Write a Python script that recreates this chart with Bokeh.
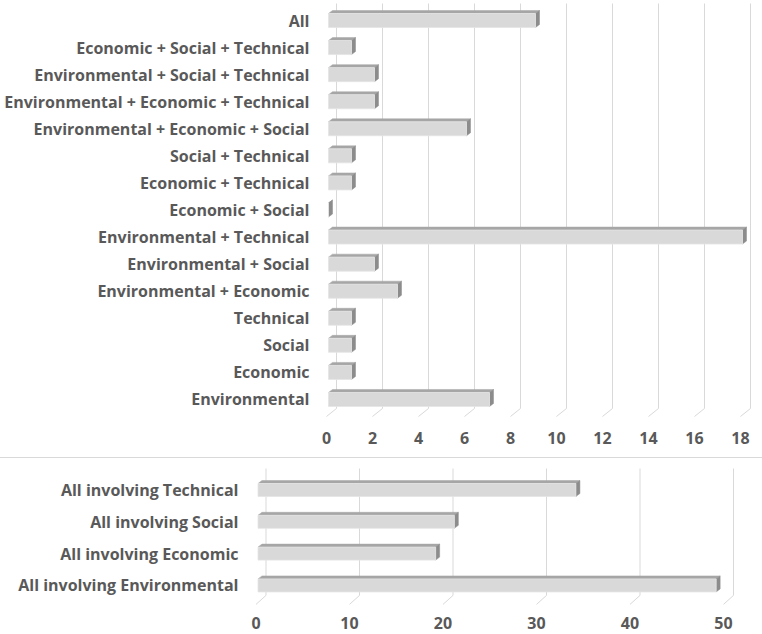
from bokeh.plotting import figure
from bokeh.models import FixedTicker, Div
from bokeh.core.properties import value
from bokeh.embed import file_html
from bokeh.resources import INLINE

# ---------------- data ----------------
top_categories = [
    "Environmental", "Economic", "Social", "Technical",
    "Environmental + Economic", "Environmental + Social", "Environmental + Technical",
    "Economic + Social", "Economic + Technical", "Social + Technical",
    "Environmental + Economic + Social", "Environmental + Economic + Technical",
    "Environmental + Social + Technical", "Economic + Social + Technical", "All",
]
top_values = [7, 1, 1, 1, 3, 2, 18, 0, 1, 1, 6, 2, 2, 1, 9]
top_ticks = [0, 2, 4, 6, 8, 10, 12, 14, 16, 18]

bottom_categories = [
    "All involving Environmental", "All involving Economic",
    "All involving Social", "All involving Technical",
]
bottom_values = [49, 19, 21, 34]
bottom_ticks = [0, 10, 20, 30, 40, 50]

TEXT = "#595959"
FONT = "Open Sans"
FSIZE = "16px"
FRONT = "#d9d9d9"
TOPF = "#a6a6a6"
SIDE = "#8c8c8c"
GRID = "#d9d9d9"


def make_chart(cats, vals, ticks, W, H, L, x0px, ppx, c_top, spacing, grid_top_px,
               floor_gap, back_dx, back_dy, face_h, ddx_px, ddy_px, bar_shift_px,
               label_gap, y_standoff):
    n = len(cats)
    x_start = -(x0px - L) / ppx
    x_end = x_start + (W - L) / ppx
    y_end = (n - 1) + c_top / spacing
    y_start = y_end - H / spacing

    p = figure(width=W, height=H, x_range=(x_start, x_end), y_range=(y_start, y_end),
               output_backend="svg", toolbar_location=None,
               min_border_left=L, min_border_right=0, min_border_top=0,
               min_border_bottom=0)
    p.outline_line_color = None
    p.xgrid.visible = False
    p.ygrid.visible = False
    p.xaxis.visible = False
    p.background_fill_color = "white"
    p.border_fill_color = "white"

    floor_front = -floor_gap / spacing
    floor_back = floor_front + back_dy / spacing
    grid_top = y_end - grid_top_px / spacing
    bx = back_dx / ppx
    m = len(ticks)

    # back-wall gridlines and floor lines
    p.segment(x0=[t + bx for t in ticks], y0=[floor_back] * m,
              x1=[t + bx for t in ticks], y1=[grid_top] * m,
              line_color=GRID, line_width=1)
    p.segment(x0=ticks, y0=[floor_front] * m,
              x1=[t + bx for t in ticks], y1=[floor_back] * m,
              line_color=GRID, line_width=1)

    # value-axis tick labels (front edge of the floor)
    p.text(x=ticks, y=[-label_gap / spacing] * m, text=[str(t) for t in ticks],
           text_font=value(FONT), text_font_style="bold", text_font_size=FSIZE,
           text_color=TEXT, text_align="center", text_baseline="middle")

    hh = face_h / 2 / spacing
    ddx = ddx_px / ppx
    ddy = ddy_px / spacing
    sh = bar_shift_px / ppx
    ys = list(range(n))

    top_xs, top_ys, side_xs, side_ys = [], [], [], []
    for i, v in zip(ys, vals):
        top_xs.append([sh, sh + v, sh + v + ddx, sh + ddx])
        top_ys.append([i + hh, i + hh, i + hh + ddy, i + hh + ddy])
        side_xs.append([sh + v, sh + v + ddx, sh + v + ddx, sh + v])
        side_ys.append([i - hh, i - hh + ddy, i + hh + ddy, i + hh])

    p.patches(top_xs, top_ys, fill_color=TOPF, line_color=TOPF, line_width=0.5)
    p.patches(side_xs, side_ys, fill_color=SIDE, line_color=SIDE, line_width=0.5)
    p.quad(left=[sh] * n, right=[sh + v for v in vals],
           bottom=[i - hh for i in ys], top=[i + hh for i in ys],
           fill_color=FRONT, line_color="#e4e4e4", line_width=0.8)

    # category axis
    ax = p.yaxis[0]
    ax.ticker = FixedTicker(ticks=ys)
    ax.major_label_overrides = {i: c for i, c in zip(ys, cats)}
    ax.axis_line_color = None
    ax.major_tick_line_color = None
    ax.minor_tick_line_color = None
    ax.major_tick_out = 0
    ax.major_tick_in = 0
    ax.major_label_standoff = y_standoff
    ax.major_label_text_font = FONT
    ax.major_label_text_font_style = "bold"
    ax.major_label_text_font_size = FSIZE
    ax.major_label_text_color = TEXT
    return p


p1 = make_chart(top_categories, top_values, top_ticks, W=762, H=457, L=321, x0px=326,
                ppx=23.0, c_top=20, spacing=27.07, grid_top_px=3, floor_gap=17,
                back_dx=10, back_dy=8, face_h=14, ddx_px=4, ddy_px=3, bar_shift_px=2,
                label_gap=39, y_standoff=12)

sep = Div(width=762, height=1, margin=0, styles={"background-color": "#d9d9d9"})

p2 = make_chart(bottom_categories, bottom_values, bottom_ticks, W=762, H=176, L=250,
                x0px=255.5, ppx=9.35, c_top=31.5, spacing=31.8, grid_top_px=10,
                floor_gap=19, back_dx=10, back_dy=9, face_h=13, ddx_px=4, ddy_px=3,
                bar_shift_px=2, label_gap=38, y_standoff=12)

open("out.html", "w").write(file_html([p1, sep, p2], INLINE))
